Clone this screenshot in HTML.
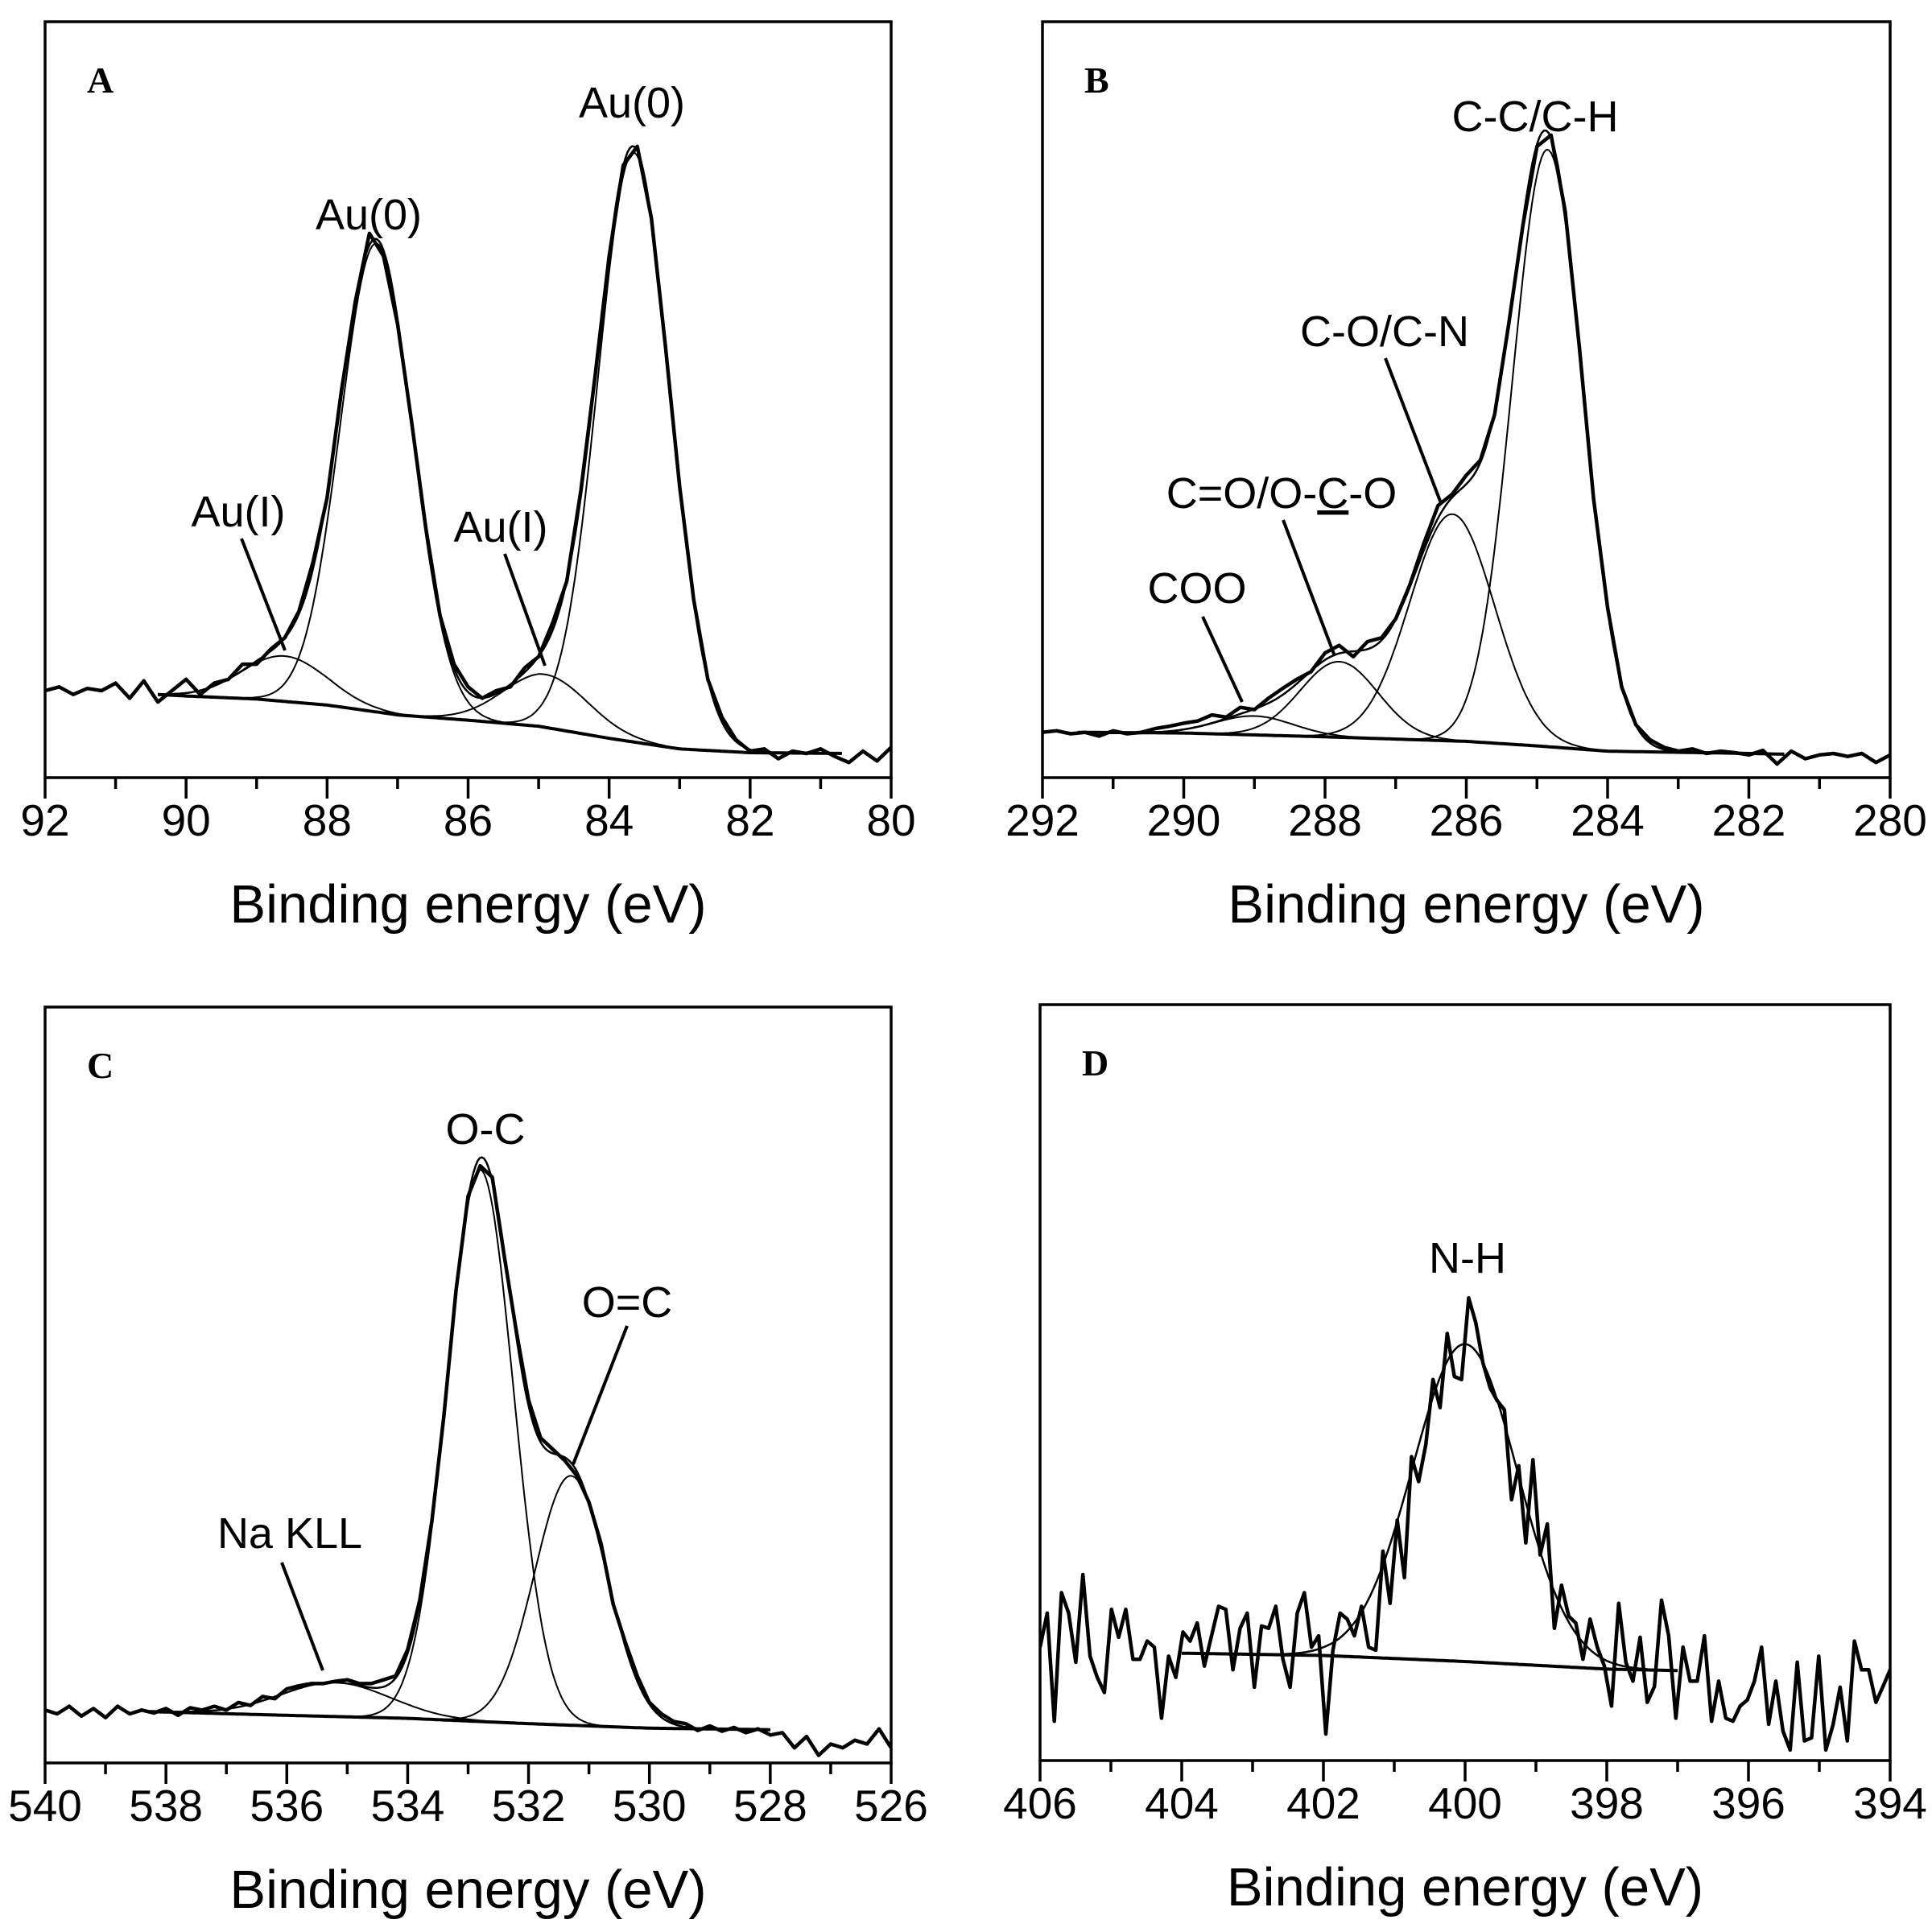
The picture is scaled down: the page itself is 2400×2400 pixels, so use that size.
<!DOCTYPE html>
<html><head><meta charset="utf-8"><style>
html,body{margin:0;padding:0;background:#fff;}
svg{display:block;}
text{font-family:"Liberation Sans",sans-serif;fill:#000;}
</style></head><body>
<svg id="chart" width="2400" height="2400" viewBox="0 0 2400 2400" xmlns="http://www.w3.org/2000/svg"></svg>
<script>
// ---------- Panel A (Au 4f) ----------
const aX0 = 92, aStep = 0.2;
const aRaw = [11.5,12,11,11.8,11.5,12.5,10.5,12.8,10,11.5,13,11,12.5,13,15,15,17,18.5,22,28.5,37,51,63,72,69,60,47,33,21.5,15,12,10.5,11.5,12,14.5,16,20.5,26,38,53,69,81,83.5,74,57,38.5,23.5,13,8,5,3.5,3.8,2.5,3.5,3.2,3.8,2.8,2,3.5,2.2,4];
const aBgX = [90.4,90,89,88,87,86,85,84,83,82,80.7];
const aBgY = [11.0,10.8,10.4,9.6,8.3,7.6,6.8,5.2,3.8,3.3,3.2];
const aCenters = [83.65,87.3,88.6,84.9];
const aHeights = [78,62,6,7];
const aSigmas = [0.51,0.51,0.6,0.6];
const aXTicks = ["92","90","88","86","84","82","80"];

// ---------- Panel B (C 1s) ----------
const bX0 = 292, bStep = 0.2;
const bRaw = [6,6.2,5.8,6,5.5,6.2,5.8,6,6.5,6.8,7.2,7.5,8.3,8,9.3,9,10.5,11.8,13,14,16.5,17.5,16,18,18.5,21,25.5,31,36,37.5,40,42,48,60,73,83.5,85,75,57,37,22.5,12,7,5,4,3.5,3.8,3.2,3.5,3.3,3,3.6,1.8,3.5,2.5,3,3.2,2.8,3.2,2,3];
const bBgX = [291.5,290,288,286,285,284,282,281.5];
const bBgY = [6,5.9,5.4,4.8,4.2,3.5,3.2,3.1];
const bCenters = [284.85,286.2,287.8,289.0];
const bHeights = [79,30,10,2.5];
const bSigmas = [0.5,0.6,0.55,0.55];
const bXTicks = ["292","290","288","286","284","282","280"];

// ---------- Panel C (O 1s) ----------
const cX0 = 540, cStep = 0.2;
const cRaw = [7,6.5,7.5,6.2,7.2,6,7.5,6.5,7,6.6,7.2,6.3,7.3,7,7.5,7,8,7.6,8.8,8.5,9.8,10.2,10.5,10.5,10.8,11,10.5,10.5,11,11.5,15,21.5,32,46,62.5,75,79,77.5,67,57,48,43,41.5,40,38,34.5,29,21,16,11.5,8,6.5,5.5,5.2,4.3,4.9,4.2,4.7,4,4.5,3.7,4,2,3.5,1,2.5,2,3,2.5,4.5,2];
const cBgX = [538.3,536,534,532,530,528];
const cBgY = [6.8,6.3,5.9,5.2,4.6,4.4];
const cCenters = [532.8,531.3,535.2];
const cHeights = [73,33,4.5];
const cSigmas = [0.55,0.6,0.9];
const cXTicks = ["540","538","536","534","532","530","528","526"];

// ---------- Panel D (N 1s) ----------
const dX0 = 406, dX1 = 394;
const dRaw = [15,19.5,5.2,22.2,19.5,13,24.6,13.8,11,9,20,16.3,20,13.4,13.4,15.8,15,5.6,13.8,11,17,15.8,18.2,12.5,16.5,20.4,20,12,17.5,19.5,9.7,17.8,17.5,20.4,13.4,9.7,19.5,22.2,15,16.5,3.5,14.6,19.5,18.7,16.5,20.4,15,14.6,27.7,20.8,31.8,24.2,40.2,36.9,41.8,50.4,46.7,56.5,50.8,50.4,61.2,57.9,52.6,49.3,47.6,46.4,34.5,39,28.8,39.8,27.2,31.3,17.5,23.2,19.1,18.2,13.4,18.7,15,12.5,7.2,20.8,13,10.5,16.3,7.7,9.8,21.2,16.5,5.6,15,10.5,10.5,16.5,5.2,10.5,5.6,5.2,7.2,8,10.5,15,4.8,10.5,3.9,1.4,13,2.6,3,13.8,1.4,4.7,9.7,2.6,15.8,12,12,7.7,9.8,12];
const dBgX = [404,402,400,398,397];
const dBgY = [14.2,13.9,13.1,12.1,11.9];
const dCenters = [400.0];
const dHeights = [42];
const dSigmas = [0.74];
const dXTicks = ["406","404","402","400","398","396","394"];

const NS = "http://www.w3.org/2000/svg";
const svg = document.getElementById('chart');
function mk(tag, attrs, parent){const e=document.createElementNS(NS,tag);for(const k in attrs)e.setAttribute(k,attrs[k]);(parent||svg).appendChild(e);return e;}

function interp(xs, ys, x){
  for(let i=0;i<xs.length-1;i++){
    const a=xs[i],b=xs[i+1];
    if((x<=a&&x>=b)||(x>=a&&x<=b)){const t=(x-a)/(b-a);return ys[i]+t*(ys[i+1]-ys[i]);}
  }
  return ys[ys.length-1];
}
function gauss(x,c,h,s){return h*Math.exp(-(x-c)*(x-c)/(2*s*s));}

function panel(cfg){
  const g = mk('g',{});
  
  
  const L=cfg.left,R=cfg.right,T=cfg.top,B=cfg.bottom;
  const sx = x => L + (cfg.xmax - x)/(cfg.xmax - cfg.xmin)*(R-L);
  const sy = v => B - v/100*(B-T);
  const clip = 'clip-'+cfg.name;
  const cp = mk('clipPath',{id:clip},g); mk('rect',{x:L,y:T,width:R-L,height:B-T},cp);
  const plot = mk('g',{'clip-path':'url(#'+clip+')'},g);
  
  
  let d='';
  cfg.raw.forEach((v,i)=>{const x=cfg.x0 - i*cfg.step; d+=(i?'L':'M')+sx(x).toFixed(1)+' '+sy(v).toFixed(1);});
  const raw = mk('path',{d:d,fill:'none',stroke:'#000','stroke-width':4.5,'stroke-linejoin':'round'},plot);
  
  
  const fa=cfg.bgX[0], fb=cfg.bgX[cfg.bgX.length-1];
  const N=300;
  const bgAt = x => interp(cfg.bgX,cfg.bgY,x);
  let db='';
  for(let i=0;i<=N;i++){const x=fa+(fb-fa)*i/N; db+=(i?'L':'M')+sx(x).toFixed(1)+' '+sy(bgAt(x)).toFixed(1);}
  const bg = mk('path',{d:db,fill:'none',stroke:'#000','stroke-width':4},plot);
  
  
  cfg.centers.forEach((c,k)=>{
    let dc='';
    for(let i=0;i<=N;i++){const x=fa+(fb-fa)*i/N; dc+=(i?'L':'M')+sx(x).toFixed(1)+' '+sy(bgAt(x)+gauss(x,c,cfg.heights[k],cfg.sigmas[k])).toFixed(1);}
    const p = mk('path',{d:dc,fill:'none',stroke:'#000','stroke-width':2},plot);
    
    
  });
  let de='';
  for(let i=0;i<=N;i++){const x=fa+(fb-fa)*i/N; let v=bgAt(x); cfg.centers.forEach((c,k)=>v+=gauss(x,c,cfg.heights[k],cfg.sigmas[k])); de+=(i?'L':'M')+sx(x).toFixed(1)+' '+sy(v).toFixed(1);}
  const env = mk('path',{d:de,fill:'none',stroke:'#000','stroke-width':2.5},plot);
  
  
  const fr = mk('rect',{x:L,y:T,width:R-L,height:B-T,fill:'none',stroke:'#000','stroke-width':3.5},g);
  
  
  const tg = mk('g',{},g);
  
  
  for(let x=cfg.xmax; x>=cfg.xmin-1e-6; x-=1){
    const major = Math.round(cfg.xmax - x)%2===0;
    mk('line',{x1:sx(x),x2:sx(x),y1:B,y2:B+(major?26:14),stroke:'#000','stroke-width':3.5},tg);
  }
  cfg.ticks.forEach(t=>{
    const tx = mk('text',{x:sx(parseFloat(t)),y:B+72,'font-size':55,'text-anchor':'middle'},tg);
    tx.textContent=t;
    
    
  });
  const tt = mk('text',{x:(L+R)/2,y:B+180,'font-size':67,'text-anchor':'middle'},g);
  tt.textContent='Binding energy (eV)';
  
  
  const lt = mk('text',{x:L+52,y:T+88,'font-size':46,'font-weight':'bold',style:'font-family:"Liberation Serif",serif'},g);
  lt.textContent=cfg.letter;
  
  
  cfg.labels.forEach(lb=>{
    const t = mk('text',{x:lb[1],y:lb[2],'font-size':54,'text-anchor':'middle'},g);
    t.innerHTML = lb[0];
    
    
    if(lb.length>3){
      const ln = mk('line',{x1:lb[3],y1:lb[4],x2:lb[5],y2:lb[6],stroke:'#000','stroke-width':4},g);
      
      
    }
  });
}

panel({name:'panel-a',letter:'A',left:56,right:1107,top:27,bottom:966,xmax:92,xmin:80,x0:aX0,step:aStep,raw:aRaw,bgX:aBgX,bgY:aBgY,centers:aCenters,heights:aHeights,sigmas:aSigmas,ticks:aXTicks,
  labels:[['Au(0)',785,146],['Au(0)',458,285],['Au(I)',296,654,300,669,354,808],['Au(I)',622,673,627,688,677,827]]});
panel({name:'panel-b',letter:'B',left:1295,right:2348,top:27,bottom:966,xmax:292,xmin:280,x0:bX0,step:bStep,raw:bRaw,bgX:bBgX,bgY:bBgY,centers:bCenters,heights:bHeights,sigmas:bSigmas,ticks:bXTicks,
  labels:[['C-C/C-H',1907,163],['C-O/C-N',1720,430,1721,445,1790,625],['C=O/O-<tspan text-decoration="underline">C</tspan>-O',1592,631,1594,646,1658,815],['COO',1487,749,1494,766,1543,872]]});
panel({name:'panel-c',letter:'C',left:56,right:1107,top:1251,bottom:2190,xmax:540,xmin:526,x0:cX0,step:cStep,raw:cRaw,bgX:cBgX,bgY:cBgY,centers:cCenters,heights:cHeights,sigmas:cSigmas,ticks:cXTicks,
  labels:[['O-C',603,1421],['O=C',779,1636,779,1647,712,1819],['Na KLL',360,1923,350,1941,401,2075]]});
panel({name:'panel-d',letter:'D',left:1292,right:2348,top:1248,bottom:2187,xmax:406,xmin:394,x0:dX0,step:(dX0-dX1)/(dRaw.length-1),raw:dRaw,bgX:dBgX,bgY:dBgY,centers:dCenters,heights:dHeights,sigmas:dSigmas,ticks:dXTicks,
  labels:[['N-H',1823,1581]]});
</script>
</body></html>
